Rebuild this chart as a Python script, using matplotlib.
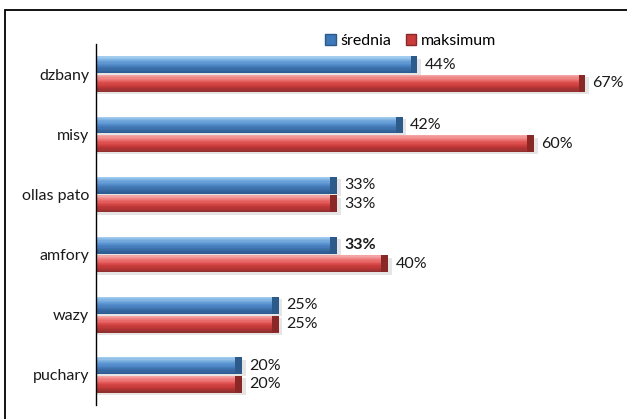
import numpy as np
import matplotlib.pyplot as plt
from matplotlib.patches import Rectangle, Patch
from matplotlib.colors import to_rgb

plt.rcParams['font.family'] = ['Lato', 'DejaVu Sans']

# -------------------------------
# Data
# -------------------------------
categories = ["dzbany", "misy", "ollas pato", "amfory", "wazy", "puchary"]
srednia = [44, 42, 33, 33, 25, 20]
maksimum = [67, 60, 33, 40, 25, 20]
series_names = ["średnia", "maksimum"]

# colour stops from top edge to bottom edge of a bar, plus cap colour
blue_stops = ["#a2ccee", "#6fa6dc", "#4f88c8", "#3a6ea8", "#2f5d92"]
red_stops = ["#f4a4a4", "#ec7474", "#d94848", "#bb3535", "#923030"]
blue_cap = "#2c5a8a"
red_cap = "#8a2828"

BAR_H = 0.28
OFFSET = 0.155
CAP_W = 0.9
FS = 11.5


def blend(stops, n):
    rgb = np.array([to_rgb(c) for c in stops])
    pos = np.linspace(0, 1, len(stops))
    t = np.linspace(0, 1, n)
    return np.stack([np.interp(t, pos, rgb[:, k]) for k in range(3)], axis=1)


def fancy_bar(ax, y, value, stops, cap, bold=False):
    top = y - BAR_H / 2
    # soft shadow under the bar
    ax.add_patch(Rectangle((0, top + 0.04), value + 0.5, BAR_H,
                           color="#d4d4d4", alpha=0.6, lw=0, zorder=1))
    n = 14
    cols = blend(stops, n)
    band = BAR_H / n
    for i in range(n):
        ax.add_patch(Rectangle((0, top + i * band), value, band * 1.02,
                               color=cols[i], lw=0, zorder=2))
    # darker end cap
    ax.add_patch(Rectangle((value - CAP_W, top), CAP_W, BAR_H,
                           color=cap, lw=0, zorder=3))
    ax.text(value + 1.0, y, f"{value}%", va="center", ha="left",
            fontsize=FS, color="#1a1a1a",
            fontweight="bold" if bold else "normal", zorder=4)


fig = plt.figure(figsize=(6.27, 4.19), dpi=100)
ax = fig.add_axes([96 / 627, 1 - 405 / 419, 524 / 627, 361 / 419])

y = np.arange(len(categories))
for i in range(len(categories)):
    fancy_bar(ax, y[i] - OFFSET, srednia[i], blue_stops, blue_cap,
              bold=(categories[i] == "amfory"))
    fancy_bar(ax, y[i] + OFFSET, maksimum[i], red_stops, red_cap)

ax.set_xlim(0, 524 / 7.3)
ax.set_ylim(len(categories) - 0.5, -0.5)
ax.set_yticks(y)
ax.set_yticklabels(categories, fontsize=FS, color="#1a1a1a")
ax.tick_params(axis="y", length=0, pad=5)
ax.set_xticks([])
for s in ["top", "right", "bottom"]:
    ax.spines[s].set_visible(False)
ax.spines["left"].set_linewidth(1.0)
ax.spines["left"].set_color("black")

handles = [Patch(facecolor="#3f78b8", edgecolor="#2c5a8a"),
           Patch(facecolor="#c83c3c", edgecolor="#8a2828")]
fig.legend(handles, series_names, loc="center", bbox_to_anchor=(0.655, 0.902),
           ncol=2, frameon=False, fontsize=FS, handlelength=0.65,
           handleheight=0.65, handletextpad=0.3, columnspacing=0.9)

# outer chart frame
fig.add_artist(Rectangle((5 / 627, -0.2), 1.5, 1.2 - 10 / 419,
                         transform=fig.transFigure, fill=False,
                         lw=1.3, color="black"))

fig.savefig("out.png", dpi=100)
